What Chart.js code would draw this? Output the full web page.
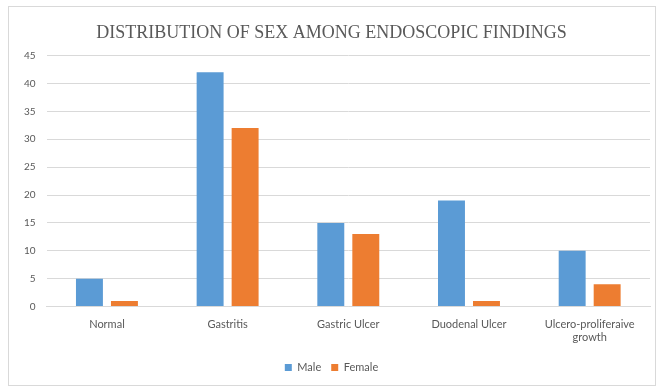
<!DOCTYPE html>
<html>
<head>
<meta charset="utf-8">
<script src="https://cdn.jsdelivr.net/npm/chart.js@4.4.1/dist/chart.umd.min.js"></script>
<style>
  html, body { margin: 0; padding: 0; background: #fff; }
  #box { position: absolute; left: 8px; top: 6px; width: 648px; height: 380px; border: 1px solid #d9d9d9; box-sizing: border-box; }
</style>
</head>
<body>
<div id="box"><canvas id="barChart"></canvas></div>
<script>
const categories = ['Normal', 'Gastritis', 'Gastric Ulcer', 'Duodenal Ulcer', ['Ulcero-proliferaive', 'growth']];
const male = [5, 42, 15, 19, 10];
const female = [1, 32, 13, 1, 4];
const yTicks = [0, 5, 10, 15, 20, 25, 30, 35, 40, 45];

const ctx = document.getElementById('barChart').getContext('2d');
const barChart = new Chart(ctx, {
  type: 'bar',
  data: {
    labels: categories,
    datasets: [
      { label: 'Male', data: male, backgroundColor: '#5b9bd5', categoryPercentage: 0.58, barPercentage: 0.77 },
      { label: 'Female', data: female, backgroundColor: '#ed7d31', categoryPercentage: 0.58, barPercentage: 0.77 }
    ]
  },
  options: {
    responsive: true,
    maintainAspectRatio: false,
    animation: false,
    layout: { padding: { left: 4, right: 5, top: 4, bottom: 2 } },
    plugins: {
      title: {
        display: true,
        text: 'DISTRIBUTION OF SEX AMONG ENDOSCOPIC FINDINGS',
        color: '#595959',
        font: { family: '"Liberation Serif", "DejaVu Serif", serif', size: 18, weight: 'normal' },
        padding: { top: 11, bottom: 12 }
      },
      legend: {
        position: 'bottom',
        labels: {
          color: '#595959',
          font: { family: 'Lato, "Open Sans", sans-serif', size: 11 },
          boxWidth: 7, boxHeight: 7, padding: 10
        }
      },
      tooltip: { enabled: false }
    },
    scales: {
      x: {
        grid: { display: false },
        border: { color: '#d9d9d9' },
        afterFit: axis => { axis.height += 5; },
        ticks: { color: '#595959', font: { family: 'Lato, "Open Sans", sans-serif', size: 11 }, maxRotation: 0, padding: 3 }
      },
      y: {
        min: 0, max: 45,
        afterBuildTicks: axis => { axis.ticks = yTicks.map(v => ({ value: v })); },
        grid: { color: '#d9d9d9', drawTicks: false },
        border: { display: false },
        ticks: { color: '#595959', font: { family: 'Lato, "Open Sans", sans-serif', size: 10 }, padding: 11 }
      }
    }
  }
});
</script>
</body>
</html>
